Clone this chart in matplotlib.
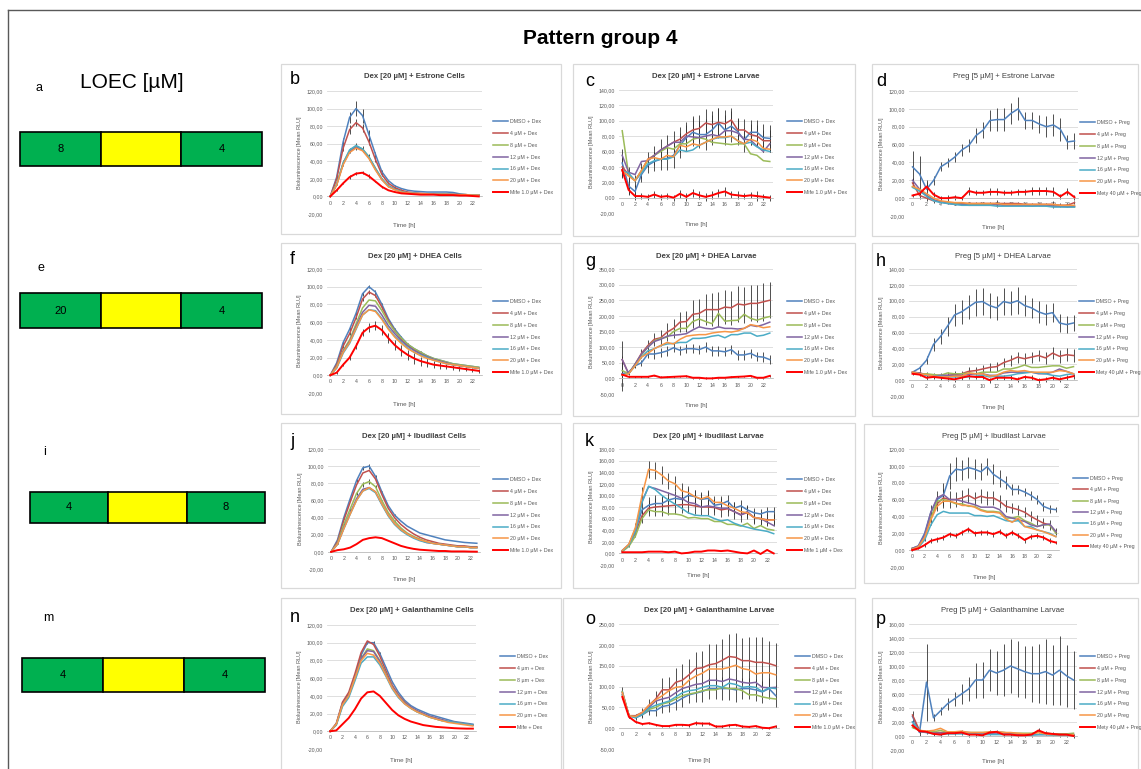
import matplotlib
matplotlib.use("Agg")
import matplotlib.pyplot as plt
from matplotlib.patches import Rectangle
from matplotlib.ticker import FuncFormatter, MultipleLocator

W, H = 1141, 769
plt.rcParams['font.family'] = ['Liberation Sans', 'DejaVu Sans']

hours = list(range(24))
colors = ['#4F81BD', '#C0504D', '#9BBB59', '#8064A2', '#4BACC6', '#F79646', '#FF0000']

dex_labels = ['DMSO + Dex', '4 µM + Dex', '8 µM + Dex', '12 µM + Dex',
              '16 µM + Dex', '20 µM + Dex', 'Mife 1.0 µM + Dex']
dex_labels_k = dex_labels[:6] + ['Mife 1 µM + Dex']
dex_labels_n = ['DMSO + Dex', '4 µm + Dex', '8 µm + Dex', '12 µm + Dex',
                '16 µm + Dex', '20 µm + Dex', 'Mife + Dex']
preg_labels = ['DMSO + Preg', '4 µM + Preg', '8 µM + Preg', '12 µM + Preg',
               '16 µM + Preg', '20 µM + Preg', 'Mety 40 µM + Preg']

# LOEC boxes (left column)
loec_values = [['8', '', '4'], ['20', '', '4'], ['4', '', '8'], ['4', '', '4']]
loec_colors = ['#00B050', '#FFFF00', '#00B050']

# ---- b: Dex + Estrone Cells ----
b_vals = [
    [0, 22, 62, 90, 100, 92, 70, 48, 28, 18, 12, 9, 7, 6, 5.5, 5, 5, 5, 5, 4.5, 3, 2, 1.5, 1.5],
    [0, 20, 55, 76, 84, 78, 62, 42, 25, 15, 10, 7, 5, 4, 3.5, 3, 3, 3, 2.5, 2.5, 2, 1.5, 1.5, 1.5],
    [0, 14, 38, 52, 57, 54, 45, 32, 20, 12, 8, 5.5, 4, 3.5, 3, 3, 2.5, 2.5, 2.5, 2, 2, 2, 1.5, 1.5],
    [0, 13, 37, 51, 56, 53, 44, 31, 19, 12, 8, 5.5, 4, 3.5, 3, 3, 2.5, 2.5, 2.5, 2, 2, 2, 1.5, 1.5],
    [0, 14, 38, 53, 58, 54, 45, 32, 20, 12, 8, 5.5, 4, 3.5, 3, 3, 2.5, 2.5, 2.5, 2, 2, 2, 1.5, 1.5],
    [0, 13, 36, 50, 55, 52, 43, 30, 19, 11, 7.5, 5, 4, 3.5, 3, 3, 2.5, 2.5, 2.5, 2, 2, 2, 1.5, 1.5],
    [0, 7, 15, 22, 26, 27, 23, 17, 11, 7, 5, 3.5, 3, 2.5, 2, 2, 2, 1.5, 1.5, 1.5, 1, 1, 0.5, 0],
]
b_err_idx = [0, 1, 2, 6]
b_err = [
    [0, 2, 4, 6, 9, 8, 6, 3, 2, 1, 1, 1, 0, 0, 0, 0, 0, 0, 0, 0, 0, 0, 0, 0],
    [0, 2, 3, 5, 4, 5, 4, 3, 2, 1, 1, 0, 0, 0, 0, 0, 0, 0, 0, 0, 0, 0, 0, 0],
    [0, 1, 3, 3, 4, 3, 3, 2, 1, 1, 0, 0, 0, 0, 0, 0, 0, 0, 0, 0, 0, 0, 0, 0],
    [0, 1, 1, 2, 2, 2, 2, 1, 1, 0, 0, 0, 0, 0, 0, 0, 0, 0, 0, 0, 0, 0, 0, 0],
]

# ---- c: Dex + Estrone Larvae ----
c_vals = [
    [45, 15, 8, 30, 42, 47, 50, 51, 55, 68, 78, 85, 82, 82, 88, 97, 88, 93, 86, 75, 85, 85, 78, 77],
    [40, 30, 22, 35, 50, 55, 62, 67, 72, 76, 83, 88, 90, 97, 95, 98, 96, 101, 88, 88, 82, 80, 74, 74],
    [87, 30, 22, 35, 48, 55, 60, 65, 63, 70, 70, 76, 78, 76, 72, 71, 70, 69, 70, 70, 57, 55, 48, 47],
    [55, 33, 30, 47, 48, 55, 62, 67, 72, 72, 80, 79, 78, 80, 82, 80, 87, 87, 84, 76, 75, 67, 60, 70],
    [35, 32, 22, 32, 44, 48, 50, 50, 53, 62, 60, 62, 68, 72, 76, 78, 78, 80, 74, 70, 72, 66, 62, 60],
    [35, 28, 22, 35, 50, 52, 50, 55, 53, 68, 66, 70, 68, 72, 76, 79, 79, 80, 74, 70, 76, 73, 64, 63],
    [36, 10, 2, 2, 1, 4, 1, 2, 0, 5, 1, 6, 3, 1, 3, 6, 8, 4, 3, 2, 3, 2, 1, 0],
]
c_err_idx = [0, 1, 6]
c_err = [
    [18, 12, 8, 10, 10, 12, 14, 15, 16, 16, 17, 18, 18, 20, 20, 20, 20, 20, 18, 16, 16, 16, 18, 18],
    [15, 10, 8, 10, 10, 12, 14, 15, 15, 16, 16, 18, 18, 18, 18, 18, 18, 16, 14, 14, 14, 14, 14, 14],
    [2, 5, 5, 4, 4, 4, 4, 4, 4, 5, 5, 5, 5, 5, 5, 5, 6, 5, 5, 4, 4, 6, 4, 4],
]

# ---- d: Preg + Estrone Larvae ----
d_vals = [
    [35, 27, 10, 20, 35, 40, 46, 54, 59, 70, 76, 87, 88, 88, 95, 100, 87, 87, 83, 80, 82, 77, 63, 64],
    [17, 3, 0, -3, -4, -5, -6, -6, -6, -6, -6, -6, -6, -6, -6, -6, -7, -7, -7, -7, -7, -8, -8, -5],
    [13, 8, 3, -2, -4, -5, -6, -7, -7, -7, -7, -7, -7, -8, -8, -8, -8, -8, -8, -9, -9, -9, -9, -10],
    [20, 10, 3, -2, -4, -6, -7, -7, -8, -8, -8, -8, -7, -8, -8, -8, -8, -9, -8, -8, -9, -9, -10, -9],
    [12, 8, 2, -3, -5, -6, -7, -8, -8, -8, -8, -8, -9, -9, -9, -9, -9, -9, -9, -9, -10, -10, -10, -10],
    [13, 10, 5, 0, -3, -4, -5, -5, -6, -6, -6, -6, -6, -7, -7, -7, -7, -7, -7, -7, -7, -8, -8, -8],
    [3, 5, 13, 4, 0, 0, 1, 0, 8, 6, 6, 7, 7, 6, 6, 7, 7, 8, 8, 8, 7, 2, 7, 1],
]
d_err_idx = [0, 1, 6]
d_err = [
    [18, 20, 10, 5, 5, 5, 6, 7, 7, 8, 9, 12, 13, 13, 12, 13, 10, 10, 10, 12, 12, 13, 8, 9],
    [5, 4, 3, 2, 2, 2, 2, 2, 2, 2, 2, 2, 4, 2, 2, 2, 2, 2, 2, 2, 4, 2, 2, 2],
    [2, 3, 5, 3, 2, 3, 3, 2, 4, 3, 3, 4, 4, 3, 3, 3, 3, 4, 4, 4, 5, 3, 4, 3],
]

# ---- f: Dex + DHEA Cells ----
f_vals = [
    [0, 14, 37, 52, 70, 92, 100, 94, 80, 64, 52, 43, 35, 30, 26, 22, 19, 17, 15, 13, 12, 11, 10, 9],
    [0, 12, 33, 47, 65, 86, 94, 90, 77, 62, 50, 41, 34, 29, 25, 21, 18, 16, 14, 12, 11, 10, 9, 8],
    [0, 10, 28, 40, 58, 76, 85, 84, 73, 60, 50, 42, 35, 30, 26, 22, 19, 17, 15, 13, 12, 11, 10, 9],
    [0, 9, 27, 38, 55, 71, 79, 78, 68, 56, 47, 39, 33, 28, 24, 21, 18, 16, 14, 12, 11, 10, 9, 8],
    [0, 8, 25, 36, 52, 68, 74, 73, 64, 53, 44, 37, 31, 26, 23, 20, 17, 15, 13, 12, 11, 10, 9, 8],
    [0, 9, 26, 37, 53, 68, 74, 72, 63, 52, 43, 36, 30, 26, 22, 19, 17, 15, 13, 12, 11, 10, 9, 8],
    [0, 3, 12, 20, 33, 48, 54, 56, 51, 42, 34, 28, 23, 19, 16, 14, 12, 11, 10, 9, 8, 7, 6, 5],
]
f_err_idx = [0, 1, 6]
f_err = [
    [0, 1, 2, 2, 2, 2, 2, 2, 2, 1, 1, 1, 1, 1, 1, 0, 0, 0, 0, 0, 0, 0, 0, 0],
    [0, 1, 2, 2, 2, 2, 2, 2, 2, 1, 1, 1, 1, 1, 1, 0, 0, 0, 0, 0, 0, 0, 0, 0],
    [0, 1, 2, 3, 3, 4, 5, 5, 6, 6, 6, 6, 6, 6, 5, 5, 4, 4, 3, 3, 3, 2, 2, 2],
]

# ---- g: Dex + DHEA Larvae ----
g_vals = [
    [15, 20, 40, 50, 78, 78, 82, 88, 98, 90, 95, 95, 92, 100, 88, 88, 85, 92, 75, 75, 80, 70, 68, 60],
    [60, 15, 45, 80, 105, 125, 130, 148, 160, 180, 182, 205, 208, 220, 220, 220, 228, 226, 238, 235, 240, 240, 245, 250],
    [25, 15, 45, 75, 100, 120, 128, 132, 150, 160, 160, 182, 190, 182, 175, 208, 183, 185, 186, 205, 192, 186, 193, 198],
    [60, 15, 45, 78, 100, 118, 125, 135, 138, 140, 143, 155, 165, 160, 158, 165, 160, 160, 158, 160, 170, 166, 172, 180],
    [12, 15, 40, 68, 88, 95, 105, 110, 112, 115, 115, 128, 128, 130, 135, 138, 130, 140, 140, 145, 145, 135, 138, 145],
    [10, 15, 40, 68, 80, 95, 105, 115, 110, 125, 135, 138, 140, 140, 145, 148, 150, 148, 152, 160, 172, 168, 162, 165],
    [12, 5, 5, 5, 5, 9, 3, 4, 5, 6, 7, 2, 2, 0, 0, 2, 2, 4, 5, 6, 8, 2, 2, 8],
]
g_err_idx = [0, 1, 6]
g_err = [
    [55, 5, 8, 10, 12, 15, 15, 15, 15, 15, 15, 15, 15, 15, 15, 15, 15, 15, 15, 15, 15, 15, 15, 15],
    [60, 5, 8, 15, 18, 20, 25, 28, 30, 32, 35, 45, 45, 50, 52, 55, 55, 55, 58, 58, 58, 60, 60, 58],
    [5, 3, 3, 3, 3, 3, 3, 3, 3, 3, 3, 3, 3, 3, 3, 3, 3, 3, 3, 3, 3, 3, 3, 3],
]

# ---- h: Preg + DHEA Larvae ----
h_vals = [
    [10, 15, 25, 45, 55, 68, 82, 86, 92, 98, 99, 94, 91, 99, 97, 100, 94, 91, 86, 83, 85, 72, 70, 72],
    [10, 9, 7, 6, 6, 6, 7, 8, 11, 12, 14, 16, 17, 22, 25, 29, 27, 29, 31, 28, 34, 30, 32, 31],
    [10, 8, 8, 7, 6, 9, 8, 8, 9, 8, 10, 10, 10, 14, 14, 16, 19, 16, 16, 17, 18, 18, 15, 17],
    [10, 9, 6, 5, 6, 6, 6, 6, 7, 8, 8, 6, 6, 9, 10, 10, 10, 10, 8, 8, 10, 14, 11, 8],
    [9, 8, 6, 5, 5, 4, 4, 4, 4, 5, 6, 4, 5, 5, 6, 8, 9, 10, 9, 8, 6, 5, 7, 8],
    [10, 8, 7, 5, 4, 4, 5, 5, 9, 8, 8, 5, 6, 10, 12, 11, 12, 10, 10, 10, 10, 12, 11, 8],
    [8, 7, 3, 4, 3, 2, 1, 3, 5, 4, 4, 0, 3, 3, 3, 1, 4, 3, 0, 1, 3, 1, 3, 5],
]
h_err_idx = [0, 1, 6]
h_err = [
    [2, 3, 5, 8, 10, 12, 14, 15, 15, 17, 17, 16, 15, 17, 15, 17, 13, 13, 14, 13, 12, 11, 11, 10],
    [2, 2, 3, 3, 3, 4, 4, 4, 5, 5, 5, 6, 6, 6, 7, 7, 7, 7, 7, 8, 8, 8, 8, 8],
    [2, 2, 3, 3, 3, 3, 3, 3, 3, 3, 3, 3, 3, 3, 3, 3, 3, 3, 3, 3, 3, 3, 3, 3],
]

# ---- j: Dex + Ibudilast Cells ----
j_vals = [
    [0, 14, 40, 62, 83, 98, 100, 88, 70, 54, 43, 36, 30, 26, 22, 20, 18, 16, 14, 13, 12, 11, 10.5, 10],
    [0, 12, 37, 58, 78, 92, 95, 85, 67, 51, 40, 32, 26, 21, 17, 14, 12, 10, 9, 8, 7, 7, 6, 6],
    [0, 10, 32, 50, 68, 79, 82, 76, 60, 46, 36, 28, 22, 18, 15, 12, 10, 9, 8, 7, 6, 6, 5, 5],
    [0, 9, 28, 45, 62, 73, 75, 70, 56, 43, 33, 26, 21, 17, 14, 11, 10, 9, 8, 7, 6, 6, 5, 5],
    [0, 9, 27, 44, 60, 71, 74, 69, 55, 42, 32, 25, 20, 16, 13, 11, 10, 9, 8, 7, 6, 6, 5, 5],
    [0, 9, 27, 44, 60, 71, 75, 70, 56, 43, 33, 26, 21, 17, 14, 12, 10, 9, 8, 7, 6, 6, 5, 5],
    [0, 2, 3, 5, 9, 14, 16, 17, 16, 13, 10, 7, 5, 3.5, 2.5, 2, 1.5, 1, 1, 0.5, 0.5, 0.5, 0.3, 0.2],
]
j_err_idx = [0, 2]
j_err = [
    [0, 1, 2, 2, 2, 2, 3, 2, 1, 1, 1, 0, 0, 0, 0, 0, 0, 0, 0, 0, 0, 0, 0, 0],
    [0, 1, 2, 2, 2, 3, 3, 2, 1, 1, 1, 0, 0, 0, 0, 0, 0, 0, 0, 0, 0, 0, 0, 0],
]

# ---- k: Dex + Ibudilast Larvae ----
k_vals = [
    [5, 15, 40, 75, 83, 86, 86, 92, 95, 93, 100, 98, 93, 95, 83, 85, 90, 78, 82, 75, 70, 68, 72, 72],
    [4, 14, 35, 65, 78, 80, 81, 82, 83, 84, 84, 82, 80, 80, 79, 75, 77, 72, 67, 70, 62, 60, 58, 58],
    [3, 12, 30, 60, 75, 72, 72, 68, 68, 66, 61, 62, 60, 60, 55, 55, 50, 50, 47, 52, 43, 48, 42, 40],
    [5, 15, 42, 90, 115, 112, 108, 104, 100, 95, 88, 86, 80, 82, 80, 78, 78, 72, 66, 72, 62, 60, 54, 48],
    [4, 14, 38, 88, 116, 110, 100, 92, 85, 78, 70, 66, 65, 65, 60, 56, 58, 52, 48, 45, 42, 40, 38, 34],
    [5, 16, 45, 100, 145, 143, 135, 125, 120, 108, 105, 98, 94, 98, 88, 88, 82, 78, 72, 70, 62, 60, 57, 58],
    [2, 2, 2, 2, 3, 3, 3, 2, 3, 0, 1, 3, 3, 5, 5, 4, 5, 3, 1, 0, 5, -1, 6, 0],
]
k_err_idx = [0, 1, 5]
k_err = [
    [2, 3, 6, 12, 14, 14, 14, 14, 13, 13, 13, 12, 12, 12, 11, 11, 10, 10, 10, 9, 9, 9, 8, 8],
    [2, 3, 6, 12, 14, 16, 16, 16, 15, 15, 15, 14, 14, 14, 13, 13, 12, 12, 12, 11, 11, 11, 10, 10],
    [2, 3, 8, 15, 15, 15, 15, 14, 13, 13, 12, 12, 12, 12, 11, 11, 10, 10, 10, 9, 9, 9, 8, 8],
]

# ---- l: Preg + Ibudilast Larvae ----
l_vals = [
    [2, 5, 20, 45, 60, 65, 88, 96, 95, 98, 96, 93, 99, 90, 85, 80, 72, 72, 69, 65, 60, 52, 49, 48],
    [2, 4, 15, 38, 55, 62, 60, 60, 62, 65, 61, 64, 62, 62, 58, 52, 50, 48, 45, 40, 36, 32, 30, 22],
    [2, 4, 15, 38, 58, 60, 58, 55, 55, 52, 52, 48, 46, 46, 45, 38, 38, 40, 35, 32, 28, 30, 30, 20],
    [2, 5, 18, 45, 62, 66, 60, 60, 58, 56, 54, 51, 51, 51, 48, 40, 38, 36, 34, 30, 28, 30, 31, 22],
    [1, 3, 12, 30, 42, 46, 44, 44, 44, 44, 41, 41, 40, 41, 38, 35, 34, 35, 28, 28, 24, 22, 20, 16],
    [1, 4, 15, 36, 52, 58, 58, 56, 53, 53, 51, 47, 45, 45, 44, 37, 33, 38, 28, 26, 24, 22, 19, 16],
    [0, 2, 6, 11, 13, 15, 19, 17, 21, 25, 20, 21, 21, 19, 22, 17, 21, 17, 12, 16, 17, 15, 11, 9],
]
l_err_idx = [0, 1, 6]
l_err = [
    [1, 2, 5, 8, 10, 15, 15, 14, 12, 12, 12, 10, 10, 12, 10, 8, 6, 5, 5, 5, 5, 5, 5, 3],
    [1, 2, 4, 8, 9, 10, 10, 9, 9, 9, 8, 8, 8, 8, 8, 7, 6, 6, 6, 6, 6, 6, 6, 4],
    [1, 1, 2, 3, 3, 3, 3, 3, 3, 3, 3, 3, 3, 3, 3, 3, 3, 3, 3, 3, 3, 3, 3, 2],
]

# ---- n: Dex + Galanthamine Cells ----
n_vals = [
    [0, 8, 32, 42, 62, 86, 100, 100, 88, 72, 56, 44, 35, 29, 25, 22, 19, 17, 15, 13, 11, 10, 9, 8],
    [0, 9, 33, 44, 65, 89, 102, 98, 85, 68, 52, 41, 33, 27, 23, 20, 17, 15, 13, 11, 10, 9, 8, 7],
    [0, 8, 30, 40, 60, 82, 93, 91, 80, 65, 50, 40, 32, 26, 22, 19, 16, 14, 12, 11, 10, 9, 8, 7],
    [0, 8, 30, 40, 60, 82, 91, 90, 79, 64, 50, 40, 32, 27, 23, 20, 17, 15, 13, 11, 10, 9, 8, 7],
    [0, 7, 28, 38, 57, 77, 84, 84, 75, 62, 48, 38, 31, 26, 22, 19, 16, 14, 12, 11, 10, 9, 8, 7],
    [0, 8, 30, 40, 60, 80, 88, 86, 77, 63, 49, 39, 31, 26, 22, 19, 16, 14, 12, 10, 9, 8, 7, 6],
    [0, 1, 8, 15, 25, 37, 44, 45, 40, 32, 24, 18, 14, 11, 9, 7, 6, 5, 4.5, 4, 3.5, 3.2, 3, 3],
]
n_err_idx = [0]
n_err = [
    [0, 1, 1, 2, 2, 2, 2, 2, 1, 1, 1, 0, 0, 0, 0, 0, 0, 0, 0, 0, 0, 0, 0, 0],
]

# ---- o: Dex + Galanthamine Larvae ----
o_vals = [
    [88, 30, 25, 32, 42, 42, 52, 55, 62, 72, 80, 84, 88, 95, 95, 95, 95, 92, 95, 95, 92, 87, 95, 78],
    [80, 30, 30, 38, 55, 70, 92, 92, 110, 115, 128, 143, 145, 152, 155, 163, 172, 170, 162, 162, 158, 158, 155, 150],
    [88, 30, 27, 33, 45, 50, 58, 62, 70, 78, 82, 85, 90, 92, 92, 98, 95, 95, 90, 80, 80, 75, 72, 70],
    [85, 30, 28, 35, 50, 65, 70, 74, 85, 95, 100, 105, 107, 115, 115, 112, 118, 115, 110, 108, 110, 98, 97, 98],
    [80, 30, 25, 33, 48, 55, 60, 65, 75, 85, 90, 92, 98, 102, 102, 98, 108, 105, 98, 100, 98, 88, 97, 95],
    [85, 30, 28, 38, 55, 68, 78, 90, 98, 100, 115, 125, 132, 142, 142, 142, 146, 151, 143, 140, 130, 133, 133, 128],
    [75, 27, 15, 10, 12, 8, 5, 5, 8, 8, 7, 12, 11, 11, 4, 4, 7, 8, 4, 3, 5, 1, 0, 4],
]
o_err_idx = [0, 1, 6]
o_err = [
    [10, 5, 5, 8, 10, 12, 15, 15, 18, 20, 20, 22, 24, 26, 26, 28, 28, 28, 26, 26, 26, 26, 26, 26],
    [5, 3, 5, 10, 15, 20, 28, 30, 35, 40, 38, 40, 40, 50, 48, 50, 55, 58, 55, 58, 60, 60, 55, 55],
    [5, 3, 3, 3, 3, 3, 3, 3, 3, 3, 3, 5, 5, 3, 3, 3, 3, 3, 3, 3, 3, 3, 3, 3],
]

# ---- p: Preg + Galanthamine Larvae ----
p_vals = [
    [28, 5, 77, 26, 36, 46, 53, 60, 67, 80, 80, 94, 90, 94, 100, 96, 92, 89, 89, 92, 87, 94, 86, 80],
    [30, 8, 6, 5, 5, 5, 5, 6, 5, 4, 3, 4, 6, 5, 4, 3, 3, 3, 6, 4, 3, 3, 2, 1],
    [12, 8, 6, 6, 8, 5, 4, 4, 5, 5, 5, 5, 5, 5, 4, 4, 4, 4, 5, 4, 3, 3, 3, 4],
    [20, 6, 5, 4, 4, 4, 4, 4, 3, 3, 3, 3, 3, 3, 3, 2, 2, 2, 2, 2, 2, 2, 2, 2],
    [20, 7, 5, 3, 2, 3, 3, 3, 4, 3, 2, 2, 2, 2, 2, 1, 1, 1, 2, 2, 1, 1, 1, 1],
    [15, 8, 7, 8, 11, 6, 6, 7, 5, 5, 5, 6, 6, 5, 5, 4, 3, 3, 5, 3, 2, 2, 2, 2],
    [15, 7, 6, 3, 2, 4, 4, 5, 2, 2, 1, 5, 6, 2, 2, 1, 1, 2, 8, 4, 3, 2, 2, 0],
]
p_err_idx = [0, 6]
p_err = [
    [8, 5, 55, 5, 6, 9, 10, 14, 17, 25, 26, 30, 31, 37, 38, 40, 37, 40, 42, 46, 43, 49, 44, 42],
    [4, 2, 3, 3, 3, 3, 3, 3, 3, 3, 3, 3, 3, 3, 3, 3, 3, 3, 3, 3, 3, 3, 3, 3],
]


def comma_fmt(v, pos):
    return f"{v:.2f}".replace('.', ',')


def px(x0, x1, y0, y1):
    """pixel box (top-left origin) -> figure rect"""
    return [x0 / W, 1 - y1 / H, (x1 - x0) / W, (y1 - y0) / H]


def draw_chart(fig, box, plot, ylim, ystep, title, bold, letter, letter_xy,
               vals, err_idx, errs, labels, leg_xy, leg_sp=1.25):
    # light gray panel frame
    ov.add_patch(Rectangle((box[0], box[1]), box[2] - box[0], box[3] - box[1],
                           fill=False, edgecolor='#D9D9D9', lw=0.9))
    ax = fig.add_axes(px(*plot))
    ax.set_facecolor('none')
    for i, series in enumerate(vals):
        lw = 1.4 if i == 6 else 1.1
        ax.plot(hours, series, color=colors[i], lw=lw, label=labels[i], zorder=3 + i * 0.1)
        if i in err_idx:
            e = errs[err_idx.index(i)]
            ax.errorbar(hours, series, yerr=e, fmt='none', ecolor='#333333',
                        elinewidth=0.6, capsize=0, zorder=2)
    ax.set_xlim(-0.5, 23.5)
    ax.set_ylim(*ylim)
    ax.yaxis.set_major_locator(MultipleLocator(ystep))
    ax.yaxis.set_major_formatter(FuncFormatter(comma_fmt))
    ax.set_xticks(range(0, 24, 2))
    ax.grid(axis='y', color='#D9D9D9', lw=0.6)
    ax.set_axisbelow(True)
    for s in ['top', 'right', 'left']:
        ax.spines[s].set_visible(False)
    ax.spines['bottom'].set_position(('data', 0))
    ax.spines['bottom'].set_color('#BFBFBF')
    ax.spines['bottom'].set_linewidth(0.6)
    ax.tick_params(length=0, labelsize=3.8, labelcolor='#595959', pad=3)
    ax.set_ylabel('Bioluminescence [Mean RLU]', fontsize=4, color='#595959', labelpad=3)
    ax.text(0.5, -0.07, 'Time [h]', transform=ax.transAxes, fontsize=4.5,
            color='#595959', ha='center', va='top')
    cx = (box[0] + box[2]) / 2 if title_center is None else title_center
    ov.text((plot[0] + plot[1]) / 2 + 10, box[1] + 13, title, fontsize=5.6,
            fontweight='bold' if bold else 'normal', color='#404040',
            ha='center', va='center')
    if letter:
        ov.text(letter_xy[0], letter_xy[1], letter, fontsize=13, ha='left', va='center')
    leg = ax.legend(loc='upper left', bbox_to_anchor=(leg_xy[0] / W, 1 - leg_xy[1] / H),
                    bbox_transform=fig.transFigure, frameon=False, fontsize=3.8,
                    handlelength=2.8, handletextpad=0.5, labelspacing=leg_sp,
                    borderpad=0, borderaxespad=0)
    for t in leg.get_texts():
        t.set_color('#595959')
    return ax


title_center = None

fig = plt.figure(figsize=(W / 100, H / 100), dpi=100)
ov = fig.add_axes([0, 0, 1, 1])
ov.set_xlim(0, W)
ov.set_ylim(H, 0)
ov.axis('off')

# outer frame
ov.plot([8, 8], [10, H], color='#595959', lw=1.0)
ov.plot([8, W], [10, 10], color='#595959', lw=1.0)

ov.text(600, 38, 'Pattern group 4', fontsize=15, fontweight='bold', ha='center', va='center')
ov.text(36, 88, 'a', fontsize=9, ha='left', va='center')
ov.text(80, 83, 'LOEC [µM]', fontsize=15, ha='left', va='center')

# LOEC bars
bar_rows = [(20, 262, 132, 166), (20, 262, 293, 328), (30, 265, 492, 523), (22, 265, 658, 692)]
row_letters = [None, ('e', 38, 268), ('i', 43, 452), ('m', 43, 618)]
for r, (x0, x1, y0, y1) in enumerate(bar_rows):
    cw = (x1 - x0) / 3
    for c in range(3):
        ov.add_patch(Rectangle((x0 + c * cw, y0), cw, y1 - y0, facecolor=loec_colors[c],
                               edgecolor='black', lw=1.2))
        ov.text(x0 + c * cw + cw / 2, (y0 + y1) / 2, loec_values[r][c], fontsize=8,
                ha='center', va='center')
    if row_letters[r]:
        l, lx, ly = row_letters[r]
        ov.text(lx, ly, l, fontsize=9, ha='left', va='center')

# row 1
draw_chart(fig, (281, 64, 561, 234), (327, 482, 91, 214), (-20, 120), 20,
           'Dex [20 µM] + Estrone Cells', True, 'b', (290, 80),
           b_vals, b_err_idx, b_err, dex_labels, (493, 119), 1.3)
draw_chart(fig, (573, 64, 855, 236), (619, 773, 90, 213), (-20, 140), 20,
           'Dex [20 µM] + Estrone Larvae', True, 'c', (585, 82),
           c_vals, c_err_idx, c_err, dex_labels, (787, 119), 1.3)
draw_chart(fig, (872, 64, 1138, 236), (909, 1078, 91, 216), (-20, 120), 20,
           'Preg [5 µM] + Estrone Larvae', False, 'd', (876, 82),
           d_vals, d_err_idx, d_err, preg_labels, (1080, 120), 1.3)
# row 2
draw_chart(fig, (281, 243, 561, 414), (327, 482, 269, 393), (-20, 120), 20,
           'Dex [20 µM] + DHEA Cells', True, 'f', (290, 260),
           f_vals, f_err_idx, f_err, dex_labels, (493, 299), 1.3)
draw_chart(fig, (573, 243, 855, 416), (619, 773, 269, 394), (-50, 350), 50,
           'Dex [20 µM] + DHEA Larvae', True, 'g', (585, 262),
           g_vals, g_err_idx, g_err, dex_labels, (787, 299), 1.3)
draw_chart(fig, (872, 243, 1138, 416), (909, 1077, 269, 396), (-20, 140), 20,
           'Preg [5 µM] + DHEA Larvae', False, 'h', (876, 262),
           h_vals, h_err_idx, h_err, preg_labels, (1079, 299), 1.3)
# row 3
draw_chart(fig, (281, 423, 561, 588), (328, 480, 449, 569), (-20, 120), 20,
           'Dex [20 µM] + Ibudilast Cells', True, 'j', (290, 442),
           j_vals, j_err_idx, j_err, dex_labels, (493, 477), 1.3)
draw_chart(fig, (573, 423, 855, 588), (619, 777, 449, 565), (-20, 180), 20,
           'Dex [20 µM] + Ibudilast Larvae', True, 'k', (585, 442),
           k_vals, k_err_idx, k_err, dex_labels_k, (787, 477), 1.3)
draw_chart(fig, (864, 424, 1138, 583), (909, 1059, 449, 567), (-20, 120), 20,
           'Preg [5 µM] + Ibudilast Larvae', False, None, None,
           l_vals, l_err_idx, l_err, preg_labels, (1073, 476), 1.2)
# row 4
draw_chart(fig, (281, 598, 561, 775), (327, 476, 625, 749), (-20, 120), 20,
           'Dex [20 µM] + Galanthamine Cells', True, 'n', (290, 617),
           n_vals, n_err_idx, n_err, dex_labels_n, (500, 654), 1.3)
draw_chart(fig, (563, 598, 855, 775), (619, 779, 624, 749), (-50, 250), 50,
           'Dex [20 µM] + Galanthamine Larvae', True, 'o', (585, 620),
           o_vals, o_err_idx, o_err, dex_labels, (795, 654), 1.3)
draw_chart(fig, (872, 598, 1138, 775), (909, 1077, 624, 750), (-20, 160), 20,
           'Preg [5 µM] + Galanthamine Larvae', False, 'p', (876, 620),
           p_vals, p_err_idx, p_err, preg_labels, (1080, 654), 1.3)

fig.savefig('out.png', dpi=100)
